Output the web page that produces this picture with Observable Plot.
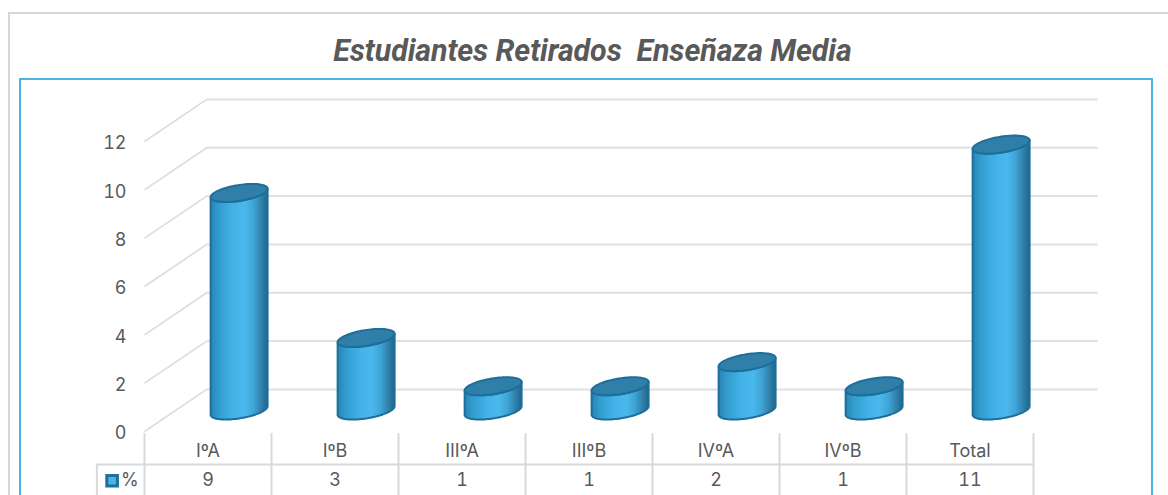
<!DOCTYPE html>
<html><head><meta charset="utf-8">
<script src="https://cdn.jsdelivr.net/npm/d3@7"></script>
<script src="https://cdn.jsdelivr.net/npm/@observablehq/plot@0.6"></script>
<style>
html,body{margin:0;padding:0;background:#fff;overflow:hidden}
#page{position:relative;width:1168px;height:495px;overflow:hidden;background:#fff}
#outer{position:absolute;left:8px;top:12px;width:1170px;height:500px;border:2px solid #d6d6d6;box-sizing:border-box}
#inner{position:absolute;left:19px;top:78px;width:1134px;height:430px;border:2px solid #4db3e4;box-sizing:border-box}
#title{position:absolute;left:0;top:33px;width:1185px;text-align:center;font:italic 700 30.4px Roboto,sans-serif;color:#595959;white-space:pre;letter-spacing:-.1px}
#chart{position:absolute;left:0;top:0}
svg{background:transparent!important}
</style></head><body>
<div id="page"><div id="outer"></div><div id="inner"></div>
<div id="title">Estudiantes Retirados  Enseñaza Media</div><div id="chart"></div></div>
<script>
const categories = ["IºA","IºB","IIIºA","IIIºB","IVºA","IVºB","Total"];
const values = [9,3,1,1,2,1,11];
const yTicks = [0,2,4,6,8,10,12];
const seriesName = "%";

// Oblique projection of the chart's depth axis, in scale units (categories, value units)
const depthX = 0.49, depthY = 1.74;
const project = (x, y, d) => ({px: x + d * depthX, py: y + d * depthY});
const midDepth = 0.5, radiusFront = 0.198, radiusDepth = 0.215;
const tan0 = Math.atan2(14, 26);
const angles = d3.range(0, 49).map(i => i / 48 * Math.PI);

function rim(i, v, t) {
  const c = project(i + 0.5, v, midDepth + radiusDepth * Math.sin(t));
  return {px: c.px + radiusFront * Math.cos(t), py: c.py, bar: i};
}
const bodies = values.flatMap((v, i) => {
  const lower = angles.map(a => rim(i, 0, tan0 - a));          // front of the base
  const upper = angles.map(a => rim(i, v, tan0 - Math.PI + a)); // front of the top
  return [...lower, ...upper, lower[0]];
});
const tops = values.flatMap((v, i) =>
  d3.range(0, 97).map(k => rim(i, v, k / 96 * 2 * Math.PI)));

const boundaries = d3.range(0, categories.length + 1);
const tableTop = -0.09, rowLine = -1.37, tableBottom = -2.65;
const catRow = -0.82, valRow = -2.0;
const legendX = -0.375;
const font = "Inter, sans-serif";

const plot = Plot.plot({
  width: 1168, height: 495,
  marginLeft: 144, marginRight: 135, marginTop: 141, marginBottom: 64,
  style: {background: "transparent", overflow: "visible"},
  x: {domain: [0, categories.length], axis: null},
  y: {domain: [0, 12], axis: null},
  marks: [
    () => {
      const s = d3.create("svg:defs");
      const g = s.append("linearGradient").attr("id", "cyl");
      [[0,"#2a83b3"],[.15,"#329ed0"],[.4,"#44b2e6"],[.6,"#4ab8ec"],[.75,"#3fa5d6"],[.9,"#2f7ea8"],[1,"#22668c"]]
        .forEach(([o,c]) => g.append("stop").attr("offset", o).attr("stop-color", c));
      return s.node();
    },
    // side wall and back wall gridlines
    Plot.link(yTicks, {x1: 0, y1: d => d, x2: depthX, y2: d => d + depthY, stroke: "#dcdcdc", strokeWidth: 1.6}),
    Plot.ruleY(yTicks, {x1: depthX, x2: categories.length + depthX + 0.02, y: d => d + depthY, stroke: "#e0e0e0", strokeWidth: 2}),
    // y axis labels
    Plot.axisY(yTicks, {anchor: "left", tickSize: 0, tickPadding: 18, fontSize: 18, fill: "#595959", stroke: null,
      fontFamily: font, fontWeight: 400, tickFormat: d => d, label: null, dy: 2}),
    // data table
    Plot.ruleX(boundaries, {x: d => d, y1: tableTop, y2: tableBottom, stroke: "#d9d9d9", strokeWidth: 2}),
    Plot.ruleY([rowLine], {x1: legendX, x2: categories.length, stroke: "#d9d9d9", strokeWidth: 2}),
    Plot.ruleX([legendX], {y1: rowLine, y2: tableBottom, stroke: "#d9d9d9", strokeWidth: 2}),
    Plot.text(categories, {x: (d, i) => i + 0.5, y: catRow, text: d => d, fontSize: 18, fill: "#595959",
      fontFamily: font, fontWeight: 400}),
    Plot.text(values, {x: (d, i) => i + 0.5, y: valRow, text: d => d, fontSize: 18, fill: "#595959",
      fontFamily: font, fontWeight: 400}),
    Plot.dot([seriesName], {x: -0.255, y: valRow - 0.04, symbol: "square", r: 6, fill: "#47b4e8", stroke: "#1f6f9b", strokeWidth: 3}),
    Plot.text([seriesName], {x: -0.115, y: valRow, text: d => d, fontSize: 18, fill: "#595959",
      fontFamily: font, fontWeight: 400}),
    // cylinders
    Plot.line(bodies, {x: "px", y: "py", z: "bar", fill: "url(#cyl)", stroke: "#1b6f9a", strokeWidth: 2, strokeLinejoin: "round"}),
    Plot.line(tops, {x: "px", y: "py", z: "bar", fill: "#307fa9", stroke: "#1b6f9a", strokeWidth: 2})
  ]
});
document.getElementById("chart").append(plot);
</script></body></html>
